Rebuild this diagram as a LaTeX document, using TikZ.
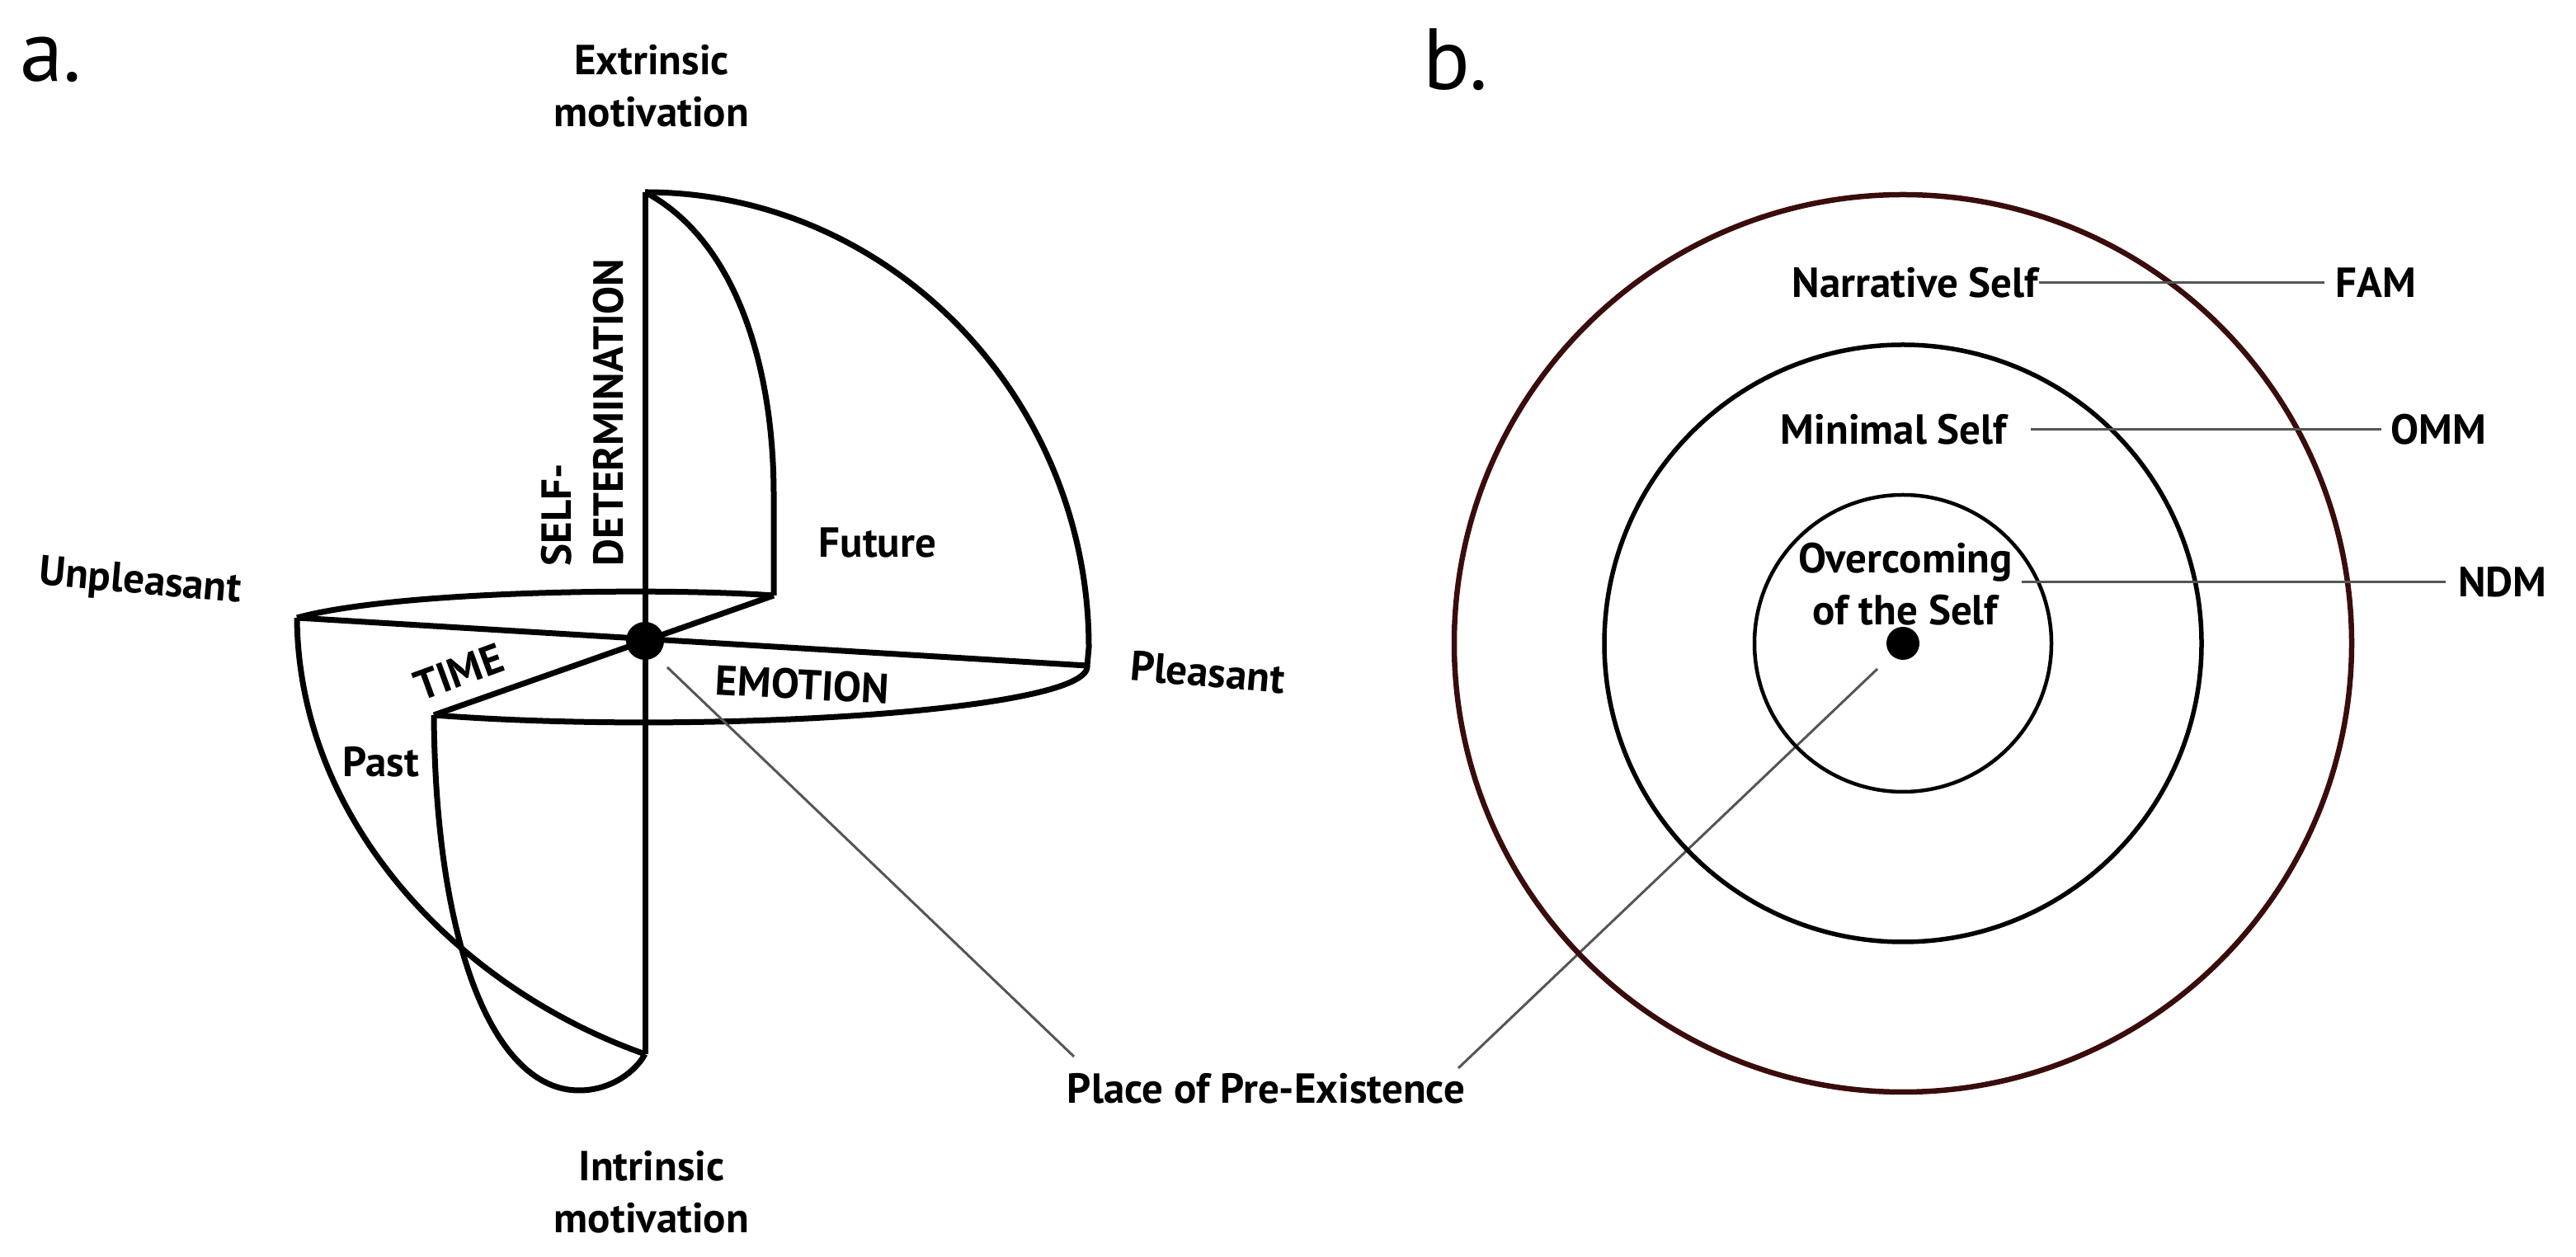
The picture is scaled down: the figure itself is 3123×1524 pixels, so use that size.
\documentclass[tikz,border=0pt]{standalone}
\usepackage{fontspec}
\setmainfont{PT Sans}
\definecolor{ringbrown}{HTML}{3A0C0C}
\definecolor{leader}{HTML}{555555}
\begin{document}
\begin{tikzpicture}[x=0.1mm,y=-0.1mm,
  thick line/.style={line width=0.7mm,black,line join=round},
  lbl/.style={font=\bfseries\fontsize{14.5}{18}\selectfont,inner sep=0pt,align=center},
  lead/.style={line width=0.3mm,leader},
  dot/.style={circle,fill=black,inner sep=0pt}]
\useasboundingbox (0,0) rectangle (3123,1524);
% panel letters
\node[font=\fontsize{30}{32}\selectfont,anchor=center] (pa) at (62,72) {a.};
\node[font=\fontsize{30}{32}\selectfont,anchor=center] (pb) at (1765,72) {b.};
% ---------- panel a ----------
\coordinate (T) at (782,233);
\coordinate (B) at (782,1278);
\coordinate (U) at (360,749);
\coordinate (P) at (1318,807);
\coordinate (F) at (938,722);
\coordinate (Pc) at (526,867);
% future half
\draw[thick line] (T) .. controls (1079,233) and (1320,482) .. (1320,785) -- (P);
\draw[thick line] (T) .. controls (890,290) and (938,440) .. (938,600) -- (F);
% emotion plane
\draw[thick line] (U) .. controls (480,716) and (800,712) .. (F);
\draw[thick line] (Pc) .. controls (850,892) and (1325,862) .. (P);
% past half
\draw[thick line] (U) .. controls (362,1000) and (560,1200) .. (B);
\draw[thick line] (Pc) .. controls (528,1150) and (600,1322) .. (702,1322) .. controls (740,1322) and (770,1300) .. (B);
% axes
\draw[thick line] (U) -- (P);
\draw[thick line] (F) -- (Pc);
\draw[thick line] (T) -- (B);
\node[dot,minimum size=4.6mm] (c) at (782,777) {};
% labels
\node[lbl] (ext) at (790,104) {Extrinsic\\motivation};
\node[lbl] (int) at (790,1445) {Intrinsic\\motivation};
\node[lbl,rotate=-5] (unp) at (170,707) {Unpleasant};
\node[lbl,rotate=-5] (ple) at (1464,815) {Pleasant};
\node[lbl] (fut) at (1064,658) {Future};
\node[lbl] (pst) at (462,924) {Past};
\node[lbl,rotate=20] (time) at (556,815) {TIME};
\node[lbl,rotate=-3] (emo) at (973,830) {EMOTION};
\node[lbl,rotate=90,align=left,anchor=south west] (sd) at (757,687) {SELF-\\DETERMINATION};
% place of pre-existence
\node[lbl] (pe) at (1535,1320) {Place of Pre-Existence};
\coordinate (la) at (809,809);
\coordinate (lae) at (1302,1281);
\coordinate (rb) at (2276,811);
\coordinate (rbe) at (1768,1295);
\draw[lead] (la) -- (lae);
\draw[lead] (rb) -- (rbe);
% ---------- panel b ----------
\coordinate (O) at (2307,780);
\draw[line width=0.65mm,ringbrown] (O) circle (544);
\draw[line width=0.55mm] (O) circle (362);
\draw[line width=0.45mm] (O) circle (180);
\node[dot,minimum size=4mm] (c2) at (O) {};
\node[lbl,anchor=center] (ns) at (2322,343) {Narrative Self};
\node[lbl] (fam) at (2880,343) {FAM};
\node[lbl] (ms) at (2296,521) {Minimal Self};
\node[lbl] (omm) at (2956,521) {OMM};
\node[lbl] (ov) at (2310,708) {Overcoming\\of the Self};
\node[lbl] (ndm) at (3034,706) {NDM};
\draw[lead] (ns.east) -- ([xshift=-1.3mm]fam.west);
\draw[lead] ([xshift=2.8mm]ms.east) -- ([xshift=-1mm]omm.west);
\draw[lead] ([xshift=1mm]ov.east |- ndm.west) -- ([xshift=-1.5mm]ndm.west);
\end{tikzpicture}
\end{document}
